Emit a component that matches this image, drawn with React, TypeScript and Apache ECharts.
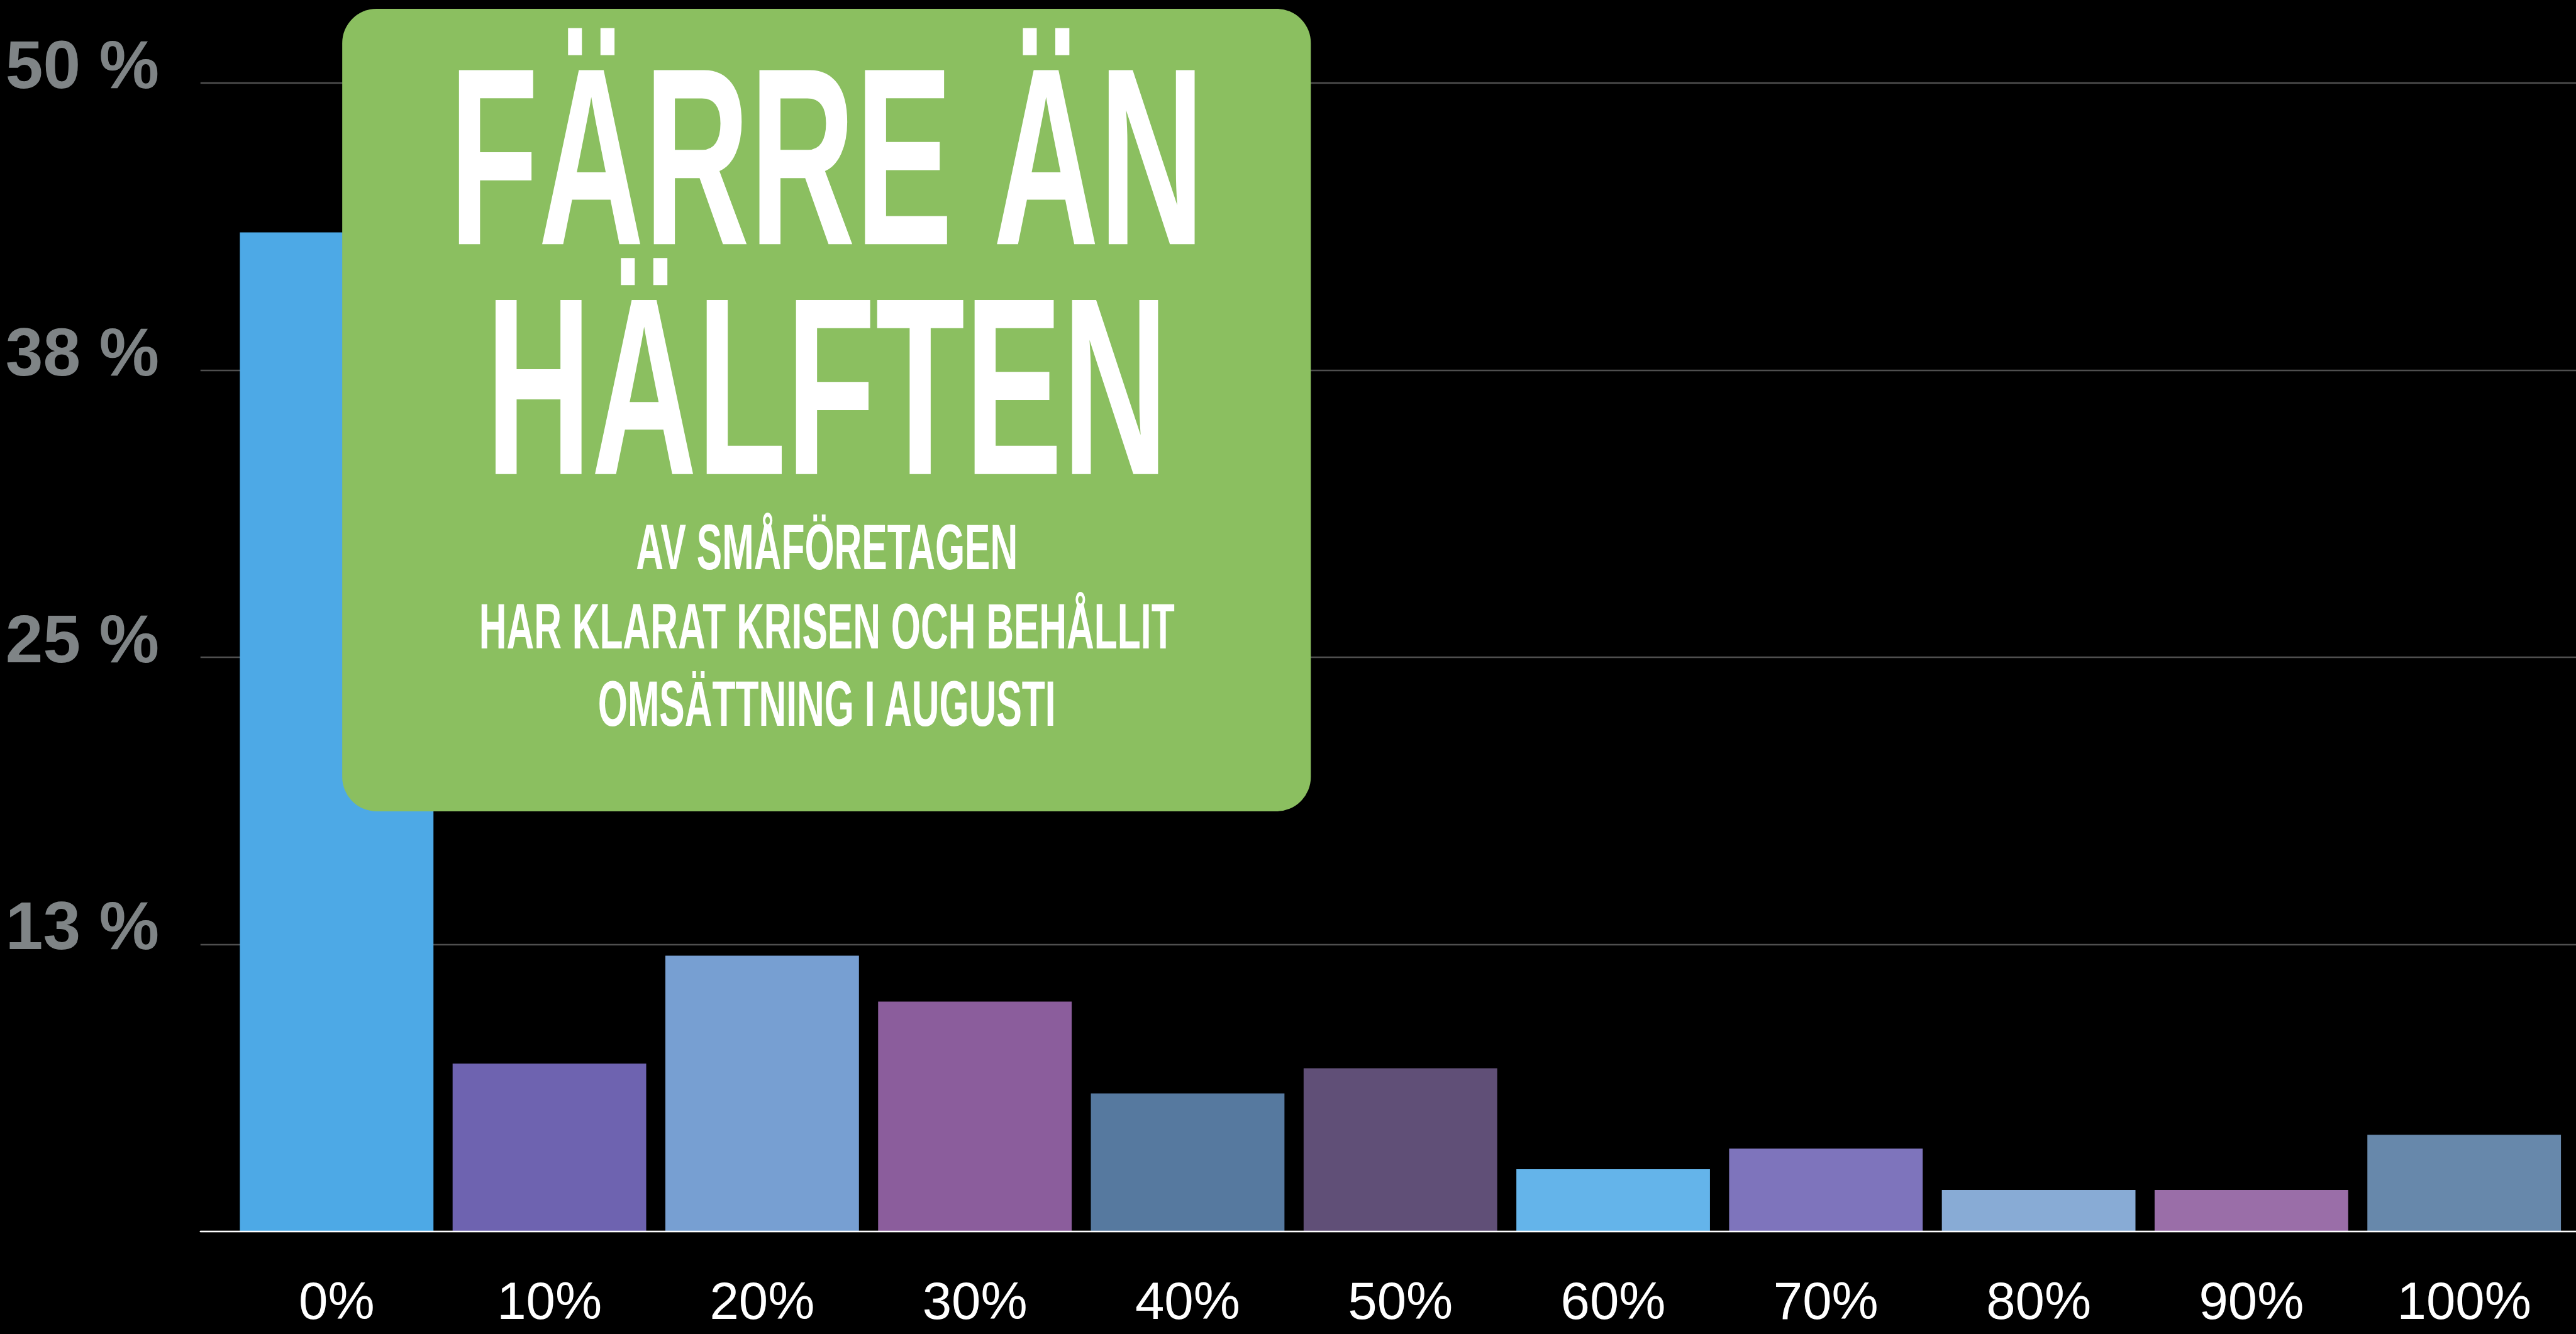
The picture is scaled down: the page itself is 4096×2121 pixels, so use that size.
import React, { useEffect, useRef } from "react";
import * as echarts from "echarts";

const S = 0.993;
const px = (v: number) => v * S;

// Data
const categories = ["0%", "10%", "20%", "30%", "40%", "50%", "60%", "70%", "80%", "90%", "100%"];
const shares = [43.5, 7.3, 12.0, 10.0, 6.0, 7.1, 2.7, 3.6, 1.8, 1.8, 4.2];
const barColors = [
  "#4DA9E6", "#6E63B0", "#779FD2", "#8B5D9C", "#56799F", "#604F77",
  "#64B4EA", "#7E74BC", "#88ABD5", "#9A6EA8", "#6788AB",
];
const yTickLabels = ["", "13 %", "25 %", "38 %", "50 %"];
const yMin = 0;
const yMax = 50;
const yStep = 12.5;
const titleLines = ["FÄRRE ÄN", "HÄLFTEN"];
const subtitleLines = ["AV SMÅFÖRETAGEN", "HAR KLARAT KRISEN OCH BEHÅLLIT", "OMSÄTTNING I AUGUSTI"];

const FONT = "'Liberation Sans', Arial, sans-serif";

export default function App() {
  const ref = useRef<HTMLDivElement>(null);

  useEffect(() => {
    document.body.style.margin = "0";
    document.body.style.background = "#000";
    const chart = echarts.init(ref.current!, undefined, { renderer: "svg" });

    const gridTop = px(133);
    const gridBottom = px(2135 - 1970.5);
    const centerX = px(1324);

    const graphic: any[] = [
      {
        type: "rect",
        z: 100,
        shape: { x: px(548), y: px(14), width: px(1551), height: px(1285), r: px(55) },
        style: { fill: "#8BBF60" },
      },
    ];
    const titleY = [251, 619];
    titleLines.forEach((t, i) => {
      graphic.push({
        type: "text",
        z: 101,
        x: centerX,
        y: px(titleY[i]),
        scaleX: 0.578,
        style: {
          text: t,
          fill: "#ffffff",
          fontFamily: FONT,
          fontWeight: "bold",
          fontSize: px(405),
          align: "center",
          verticalAlign: "middle",
        },
      });
    });
    const subY = [876, 1002.5, 1127];
    subtitleLines.forEach((t, i) => {
      graphic.push({
        type: "text",
        z: 101,
        x: centerX,
        y: px(subY[i]),
        scaleX: 0.59,
        style: {
          text: t,
          fill: "#ffffff",
          fontFamily: FONT,
          fontWeight: "bold",
          fontSize: px(103.4),
          align: "center",
          verticalAlign: "middle",
        },
      });
    });

    const option: any = {
      animation: false,
      backgroundColor: "#000000",
      grid: [
        { left: px(321), right: 0, top: gridTop, bottom: gridBottom },
        { left: px(368.75), right: px(8.75), top: gridTop, bottom: gridBottom },
      ],
      xAxis: [
        {
          gridIndex: 0,
          type: "category",
          data: categories,
          z: 10,
          axisLine: { show: true, lineStyle: { color: "#ffffff", width: px(2.5) } },
          axisTick: { show: false },
          axisLabel: { show: false },
          splitLine: { show: false },
        },
        {
          gridIndex: 1,
          type: "category",
          data: categories,
          axisLine: { show: false },
          axisTick: { show: false },
          splitLine: { show: false },
          axisLabel: {
            color: "#ffffff",
            fontFamily: FONT,
            fontSize: px(84),
            lineHeight: px(84),
            margin: px(69.5),
          },
        },
      ],
      yAxis: [
        {
          gridIndex: 0,
          type: "value",
          min: yMin,
          max: yMax,
          interval: yStep,
          axisLine: { show: false },
          axisTick: { show: false },
          splitLine: { show: true, lineStyle: { color: "#4f4f4f", width: px(2.5) } },
          axisLabel: {
            color: "#7F8486",
            fontFamily: FONT,
            fontWeight: "bold",
            fontSize: px(108),
            lineHeight: px(58),
            verticalAlign: "bottom",
            margin: px(66),
            formatter: (_v: number, idx: number) => yTickLabels[idx] ?? "",
          },
        },
        {
          gridIndex: 1,
          type: "value",
          min: yMin,
          max: yMax,
          interval: yStep,
          show: false,
          splitLine: { show: false },
        },
      ],
      series: [
        {
          type: "bar",
          xAxisIndex: 1,
          yAxisIndex: 1,
          barWidth: px(310),
          data: shares.map((v, i) => ({ value: v, itemStyle: { color: barColors[i] } })),
        },
      ],
      graphic,
    };
    chart.setOption(option);
    return () => chart.dispose();
  }, []);

  return (
    <div
      ref={ref}
      style={{ width: 4096, height: 2121, position: "absolute", left: 0, top: 0 }}
    />
  );
}
